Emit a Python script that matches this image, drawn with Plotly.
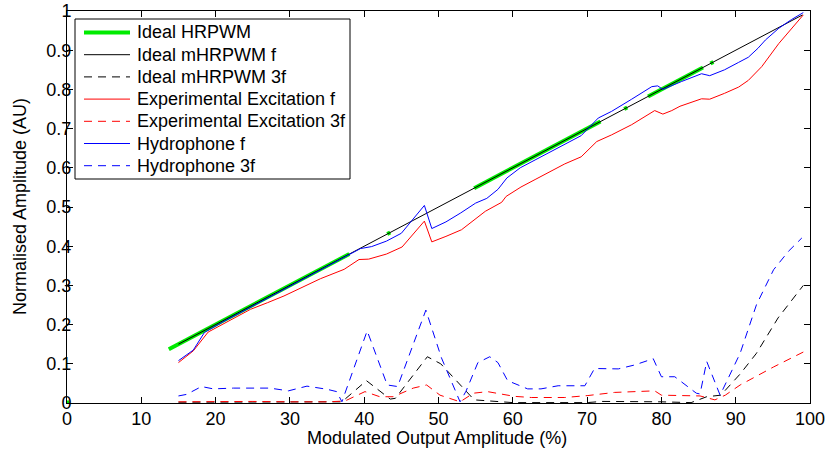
import plotly.graph_objects as go

# Ideal HRPWM (only defined on some ranges, gaps as None)
ideal_x = [0, 0.3, None, 13.7, 38.0, None, 43.1, 43.5, None, 54.8, 71.8, None,
           75.0, 75.4, None, 78.2, 85.6, None, 86.6, 87.0]
ideal_y = [0, 0.003, None, 0.137, 0.380, None, 0.431, 0.435, None, 0.548, 0.718, None,
           0.750, 0.754, None, 0.782, 0.856, None, 0.866, 0.870]

# Ideal mHRPWM f
mh_f_x = [15, 99]
mh_f_y = [0.15, 0.99]

# Ideal mHRPWM 3f
mh_3f_x = [15, 20, 25, 30, 35, 37, 40.3, 43.5, 44.2, 48.5, 50.3, 52, 54.8, 60, 65, 70,
           72, 76, 80, 84, 86.1, 88, 90.6, 92.8, 95.7, 99.1]
mh_3f_y = [0.002, 0.002, 0.002, 0.002, 0.002, 0.003, 0.057, 0.01, 0.012, 0.118, 0.1, 0.065,
           0.008, 0.001, 0.001, 0.001, 0.004, 0.004, 0.003, 0.001, 0.016, 0.02, 0.074, 0.127,
           0.217, 0.30]

# Experimental Excitation f
ex_f_x = [15, 17, 19, 21, 22.4, 24.7, 27, 29.2, 34.1, 37.3, 39.3, 40.6, 43, 45.1, 48.1, 49.1,
          51, 53.1, 56.3, 58.5, 59.1, 61.1, 63, 65.2, 67, 69.2, 71.3, 73.3, 76, 79.1, 80.2,
          81.4, 82.5, 85.4, 86.5, 88.5, 90.4, 91.7, 93.5, 95.8, 97.5, 99.1]
ex_f_y = [0.103, 0.133, 0.181, 0.201, 0.215, 0.239, 0.256, 0.273, 0.317, 0.341, 0.366, 0.367,
          0.38, 0.398, 0.464, 0.411, 0.425, 0.442, 0.489, 0.512, 0.527, 0.551, 0.57, 0.591,
          0.61, 0.628, 0.667, 0.684, 0.71, 0.746, 0.737, 0.746, 0.757, 0.776, 0.775, 0.79,
          0.806, 0.823, 0.858, 0.917, 0.955, 0.99]

# Experimental Excitation 3f
ex_3f_x = [15, 20, 25, 30, 35, 37.4, 40.1, 42.1, 43.9, 46.6, 48.4, 50.2, 52.9, 54.7, 56.6,
           60.2, 62.5, 67, 70.1, 73.7, 77.1, 79.1, 80, 85.2, 87.2, 88.6, 90.6, 93.1, 95.1, 99.1]
ex_3f_y = [0.003, 0.004, 0.004, 0.003, 0.003, 0.005, 0.029, 0.016, 0.016, 0.038, 0.046, 0.02,
           0.003, 0.025, 0.029, 0.017, 0.014, 0.014, 0.019, 0.027, 0.029, 0.031, 0.02, 0.018,
           0.008, 0.02, 0.046, 0.072, 0.092, 0.13]

# Hydrophone f
hy_f_x = [15, 17, 18.5, 21, 24, 27, 30, 33, 36, 38, 39.5, 41, 43, 45, 48.1, 49.1, 51, 53,
          55, 56.5, 58, 59.2, 61, 63, 65, 67, 69.2, 71.5, 73.3, 76, 78.7, 79.5, 80.2, 82.7,
          85.4, 86.5, 88.5, 90.4, 91.7, 93, 94, 95.8, 97.5, 99.1]
hy_f_y = [0.108, 0.135, 0.18, 0.207, 0.237, 0.267, 0.297, 0.327, 0.357, 0.377, 0.394, 0.399,
          0.413, 0.433, 0.504, 0.445, 0.462, 0.485, 0.51, 0.522, 0.545, 0.574, 0.600, 0.62,
          0.64, 0.66, 0.682, 0.727, 0.744, 0.775, 0.807, 0.809, 0.80, 0.82, 0.84, 0.835,
          0.85, 0.869, 0.882, 0.905, 0.926, 0.956, 0.978, 0.996]

# Hydrophone 3f
hy_3f_x = [15, 16.1, 18.1, 19.7, 22.4, 26, 27.3, 29.8, 32.3, 35, 36.3, 37, 40.4, 43.1, 44.5,
           48.3, 50.4, 52.9, 53.7, 55.3, 56.9, 58, 59.3, 62, 63.8, 66.1, 69.7, 71, 74.2, 76.4,
           78.9, 80, 81.8, 84.7, 85.2, 86.1, 87.9, 90.6, 92.8, 95.1, 97.1, 98.9]
hy_3f_y = [0.018, 0.022, 0.042, 0.036, 0.038, 0.039, 0.038, 0.031, 0.043, 0.035, 0.029, 0.003,
           0.184, 0.046, 0.042, 0.237, 0.115, 0.003, 0.03, 0.103, 0.118, 0.103, 0.057, 0.036,
           0.036, 0.044, 0.044, 0.088, 0.087, 0.097, 0.113, 0.067, 0.067, 0.025, 0.023, 0.106,
           0.02, 0.127, 0.251, 0.34, 0.387, 0.421]

DASH = "8px,6px"
FONT = "Liberation Sans, Arial, Helvetica, sans-serif"
FS = 18

series = [
    ("Ideal HRPWM", ideal_x, ideal_y, "rgb(0,235,0)", 4, "solid"),
    ("Ideal mHRPWM f", mh_f_x, mh_f_y, "black", 1, "solid"),
    ("Ideal mHRPWM 3f", mh_3f_x, mh_3f_y, "black", 1, DASH),
    ("Experimental Excitation f", ex_f_x, ex_f_y, "red", 1, "solid"),
    ("Experimental Excitation 3f", ex_3f_x, ex_3f_y, "red", 1, DASH),
    ("Hydrophone f", hy_f_x, hy_f_y, "blue", 1, "solid"),
    ("Hydrophone 3f", hy_3f_x, hy_3f_y, "blue", 1, DASH),
]

W, H = 826, 451
L, R, T, B = 67, 16, 11, 48
pw, ph = W - L - R, H - T - B


def px(x):
    return (x - L) / pw


def py(y):
    return (H - B - y) / ph


fig = go.Figure()
for name, xs, ys, col, w, dash in series:
    fig.add_trace(go.Scatter(x=xs, y=ys, name=name, mode="lines", showlegend=False,
                             line=dict(color=col, width=w, dash=dash)))

# matlab style legend box drawn by hand
shapes = [dict(type="rect", xref="paper", yref="paper",
               x0=px(75), x1=px(350), y0=py(179), y1=py(19),
               line=dict(color="black", width=1), fillcolor="white", layer="above")]
annotations = []
row0, gap = 32.5, 22.2
for i, (name, xs, ys, col, w, dash) in enumerate(series):
    yy = py(row0 + i * gap)
    shapes.append(dict(type="line", xref="paper", yref="paper", x0=px(84), x1=px(130),
                       y0=yy, y1=yy, line=dict(color=col, width=w, dash=dash), layer="above"))
    annotations.append(dict(text=name, xref="paper", yref="paper", x=px(135), y=yy,
                            xanchor="left", yanchor="middle", showarrow=False,
                            font=dict(size=FS, color="black")))

# axis titles
annotations.append(dict(text="Modulated Output Amplitude (%)", xref="paper", yref="paper",
                        x=px(437), y=py(438), xanchor="center", yanchor="middle",
                        showarrow=False, font=dict(size=FS, color="black")))
annotations.append(dict(text="Normalised Amplitude (AU)", xref="paper", yref="paper",
                        x=px(20), y=py(207), xanchor="center", yanchor="middle", textangle=-90,
                        showarrow=False, font=dict(size=FS, color="black")))

axis_style = dict(showgrid=False, zeroline=False, showline=True, linecolor="black",
                  linewidth=1, mirror="ticks", ticks="inside", ticklen=6,
                  tickcolor="black", tickfont=dict(size=FS, color="black"),
                  automargin=False, ticklabeloverflow="allow")

fig.update_xaxes(range=[0, 100], dtick=10, tick0=0, ticklabelstandoff=-1, **axis_style)
fig.update_yaxes(range=[0, 1], dtick=0.1, tick0=0, ticklabelstandoff=-9, **axis_style)

fig.update_layout(
    width=W, height=H,
    margin=dict(l=L, r=R, t=T, b=B),
    paper_bgcolor="white", plot_bgcolor="white",
    font=dict(family=FONT, size=FS, color="black"),
    shapes=shapes, annotations=annotations,
)

# drop the default 8px page margin so the figure fills the window exactly
fig.write_html("out.html", config={"displayModeBar": False},
               post_script="document.body.style.margin='0';")
